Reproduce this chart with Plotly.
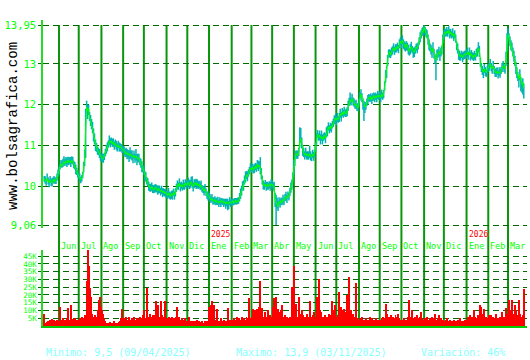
import pandas as pd
import plotly.graph_objects as go

START_DATE = "2024-05-13"

# Daily close (one row per month, May-2024 .. Mar-2026)
close = [
    10.18, 10.15, 10.12, 10.20, 10.14, 10.10, 10.16, 10.12, 10.08, 10.14, 10.18, 10.12, 10.16, 10.22, 10.30,
    10.38, 10.48, 10.55, 10.52, 10.58, 10.60, 10.56, 10.62, 10.58, 10.65, 10.60, 10.62, 10.58, 10.64, 10.60, 10.55, 10.50, 10.42, 10.38, 10.30,
    10.25, 10.22, 10.18, 10.20, 10.26, 10.45, 10.70, 11.40, 11.95, 11.85, 11.90, 11.70, 11.60, 11.55, 11.40, 11.30, 11.15, 11.05, 10.95, 10.90, 10.85, 10.80, 10.75,
    10.72, 10.68, 10.70, 10.75, 10.82, 10.90, 10.98, 11.05, 11.10, 11.08, 11.12, 11.05, 11.08, 11.02, 11.05, 11.00, 10.98, 11.02, 10.96, 10.98, 10.94, 10.92,
    10.90, 10.86, 10.84, 10.80, 10.82, 10.78, 10.80, 10.76, 10.78, 10.74, 10.72, 10.76, 10.70, 10.74, 10.72, 10.68, 10.70, 10.62, 10.58, 10.50, 10.45,
    10.38, 10.28, 10.20, 10.15, 10.08, 10.02, 9.98, 9.95, 10.00, 9.96, 9.92, 9.95, 9.98, 9.94, 9.90, 9.95, 9.92, 9.88, 9.90, 9.86, 9.88, 9.84, 9.86,
    9.82, 9.78, 9.85, 9.80, 9.76, 9.82, 9.78, 9.85, 9.80, 9.86, 9.95, 10.05, 10.02, 10.08, 10.00, 10.04, 9.98, 10.05, 10.02, 10.08, 10.04,
    10.06, 10.10, 10.02, 10.08, 10.12, 10.05, 10.00, 10.06, 10.10, 10.04, 10.08, 10.02, 10.06, 10.00, 10.03, 9.96, 9.92, 9.90, 9.94, 9.85, 9.80, 9.78,
    9.76, 9.72, 9.68, 9.70, 9.66, 9.64, 9.68, 9.62, 9.65, 9.63, 9.60, 9.64, 9.62, 9.66, 9.63, 9.60, 9.62, 9.58, 9.62, 9.60, 9.57, 9.62, 9.60,
    9.62, 9.65, 9.60, 9.64, 9.66, 9.62, 9.65, 9.64, 9.72, 9.80, 9.90, 9.98, 10.05, 10.15, 10.22, 10.28, 10.25, 10.32, 10.40, 10.45,
    10.42, 10.48, 10.40, 10.45, 10.50, 10.44, 10.55, 10.48, 10.52, 10.45, 10.30, 10.15, 10.05, 10.02, 10.06, 10.00, 10.04, 10.00, 10.05, 10.02, 10.06,
    10.05, 10.02, 10.00, 9.70, 9.60, 9.58, 9.50, 9.62, 9.60, 9.65, 9.62, 9.68, 9.66, 9.72, 9.75, 9.72, 9.78, 9.76, 9.85, 9.95, 10.05, 10.20,
    10.50, 10.65, 10.78, 10.80, 10.76, 10.85, 11.10, 11.18, 11.05, 10.90, 10.82, 10.78, 10.80, 10.76, 10.78, 10.74, 10.80, 10.76, 10.72, 10.78, 10.75, 10.82,
    10.95, 11.15, 11.28, 11.22, 11.25, 11.18, 11.22, 11.15, 11.20, 11.25, 11.18, 11.30, 11.38, 11.45, 11.40, 11.48, 11.42, 11.50, 11.58, 11.62, 11.66,
    11.62, 11.68, 11.64, 11.70, 11.78, 11.74, 11.82, 11.76, 11.85, 11.80, 11.78, 11.84, 11.95, 12.05, 12.12, 12.08, 12.15, 12.10, 12.05, 11.98, 12.02, 11.95, 11.92,
    12.05, 12.22, 12.26, 12.18, 12.08, 12.00, 11.95, 11.98, 12.05, 12.12, 12.18, 12.15, 12.20, 12.12, 12.18, 12.22, 12.16, 12.20, 12.18, 12.24, 12.20,
    12.22, 12.18, 12.25, 12.20, 12.28, 12.45, 12.70, 12.85, 13.10, 13.25, 13.28, 13.22, 13.30, 13.35, 13.38, 13.32, 13.40, 13.36, 13.42, 13.38, 13.48, 13.55,
    13.50, 13.58, 13.52, 13.45, 13.40, 13.48, 13.42, 13.35, 13.30, 13.38, 13.42, 13.36, 13.30, 13.28, 13.35, 13.40, 13.38, 13.45, 13.55, 13.65, 13.72, 13.80, 13.78,
    13.90, 13.82, 13.75, 13.70, 13.62, 13.45, 13.40, 13.35, 13.30, 13.38, 13.25, 13.15, 13.08, 13.20, 13.25, 13.30, 13.22, 13.28, 13.35, 13.60,
    13.72, 13.78, 13.74, 13.80, 13.76, 13.82, 13.72, 13.78, 13.70, 13.75, 13.68, 13.72, 13.60, 13.45, 13.35, 13.25, 13.20, 13.18, 13.22, 13.16, 13.20, 13.24, 13.22,
    13.25, 13.28, 13.22, 13.30, 13.18, 13.24, 13.20, 13.15, 13.22, 13.18, 13.25, 13.30, 13.38, 13.32, 13.05, 12.90, 12.85, 12.80, 12.88, 12.82, 12.78, 12.85,
    12.90, 12.95, 13.00, 12.92, 12.88, 12.95, 12.85, 12.80, 12.78, 12.82, 12.76, 12.80, 12.78, 12.85, 12.92, 12.95, 12.90, 12.88, 13.10, 13.50,
    13.72, 13.65, 13.55, 13.48, 13.40, 13.30, 13.20, 13.05, 12.95, 12.80, 12.70, 12.62, 12.75, 12.58, 12.50, 12.55, 12.40,
]

# How far each day's high reaches above the close (cents)
hi_ext = [
    8, 10, 6, 12, 9, 7, 10, 8, 12, 9, 8, 10, 7, 10, 12,
    10, 8, 10, 12, 10, 14, 12, 10, 12, 8, 12, 10, 14, 10, 12, 8, 10, 12, 8, 10,
    8, 10, 6, 8, 10, 15, 20, 50, 15, 15, 10, 12, 15, 10, 18, 12, 15, 10, 12, 8, 10, 12, 8,
    8, 12, 10, 8, 10, 12, 10, 8, 15, 10, 8, 12, 10, 8, 10, 12, 8, 10, 12, 8, 10, 8,
    10, 12, 8, 15, 10, 12, 8, 20, 10, 15, 8, 12, 10, 18, 8, 12, 10, 8, 10, 12, 8,
    12, 10, 15, 8, 12, 10, 8, 12, 10, 8, 12, 10, 8, 10, 12, 8, 10, 8, 12, 10, 8, 10, 8,
    8, 10, 12, 8, 10, 8, 12, 10, 8, 10, 12, 10, 8, 12, 10, 8, 10, 12, 8, 10, 8,
    10, 12, 15, 8, 12, 20, 10, 12, 8, 15, 10, 12, 8, 10, 12, 8, 10, 8, 12, 10, 8, 10,
    8, 10, 8, 12, 8, 10, 8, 10, 8, 12, 8, 10, 8, 6, 8, 10, 8, 12, 8, 10, 8, 12, 8,
    8, 6, 10, 8, 6, 10, 8, 10, 12, 15, 12, 15, 10, 12, 15, 10, 12, 10, 8, 12,
    10, 8, 12, 10, 8, 12, 10, 15, 10, 27, 15, 12, 10, 8, 10, 12, 8, 10, 8, 10, 12,
    10, 8, 12, 15, 20, 15, 15, 12, 10, 8, 10, 12, 8, 10, 12, 8, 10, 8, 12, 15, 12, 15,
    15, 12, 10, 8, 12, 10, 35, 25, 15, 10, 12, 8, 15, 10, 8, 12, 20, 10, 8, 12, 10, 8,
    12, 15, 10, 8, 12, 10, 15, 12, 10, 8, 12, 15, 10, 12, 10, 8, 12, 10, 8, 12, 10,
    10, 12, 8, 10, 12, 8, 10, 12, 10, 8, 12, 10, 15, 12, 18, 10, 12, 8, 10, 12, 10, 8, 12,
    10, 8, 12, 10, 8, 10, 12, 8, 10, 12, 8, 10, 8, 12, 10, 8, 12, 10, 8, 10, 8,
    10, 8, 12, 10, 8, 12, 15, 10, 12, 10, 8, 12, 10, 8, 12, 10, 8, 12, 10, 8, 12, 10,
    10, 12, 8, 10, 12, 8, 10, 12, 8, 10, 12, 8, 10, 12, 8, 10, 12, 8, 10, 12, 10, 8, 12,
    5, 8, 10, 12, 10, 15, 10, 12, 10, 15, 12, 10, 12, 15, 10, 12, 10, 12, 10, 12,
    10, 8, 12, 10, 8, 10, 12, 8, 10, 12, 8, 10, 12, 10, 15, 10, 12, 8, 10, 12, 10, 8, 10,
    10, 12, 8, 10, 12, 10, 8, 12, 10, 8, 12, 10, 15, 12, 10, 12, 10, 8, 12, 10, 8, 10,
    10, 8, 12, 10, 8, 12, 10, 8, 12, 10, 8, 12, 10, 8, 10, 12, 10, 8, 20, 25,
    15, 10, 12, 10, 12, 10, 12, 15, 10, 12, 10, 8, 12, 10, 8, 10, 12,
]

# How far each day's low reaches below the close (cents)
lo_ext = [
    6, 8, 10, 5, 9, 12, 6, 10, 8, 7, 9, 6, 10, 8, 6,
    10, 6, 8, 6, 10, 8, 6, 8, 10, 12, 8, 6, 10, 8, 6, 10, 8, 12, 10, 8,
    6, 8, 10, 8, 6, 10, 20, 70, 10, 20, 15, 10, 12, 15, 10, 20, 12, 18, 10, 12, 8, 10, 12,
    10, 8, 12, 10, 8, 10, 12, 10, 8, 12, 10, 8, 10, 12, 8, 10, 12, 8, 10, 12, 8, 10,
    8, 10, 12, 8, 15, 10, 20, 8, 12, 10, 15, 8, 12, 10, 20, 8, 12, 10, 12, 15, 10,
    10, 12, 8, 10, 8, 12, 10, 8, 10, 12, 8, 10, 12, 8, 10, 12, 8, 10, 8, 12, 10, 8, 12,
    10, 8, 12, 10, 8, 12, 10, 8, 12, 10, 8, 12, 10, 8, 12, 10, 8, 12, 10, 8, 10,
    8, 10, 8, 12, 10, 8, 12, 10, 8, 10, 12, 8, 10, 8, 12, 10, 8, 12, 10, 8, 10, 12,
    8, 10, 8, 6, 10, 8, 12, 8, 10, 8, 10, 8, 12, 10, 8, 10, 8, 12, 10, 18, 12, 8, 10,
    8, 10, 6, 8, 10, 6, 8, 6, 8, 10, 12, 8, 15, 10, 12, 10, 12, 8, 10, 8,
    8, 10, 8, 12, 10, 8, 12, 10, 8, 15, 12, 10, 12, 10, 8, 10, 12, 8, 10, 12, 8,
    8, 10, 12, 20, 54, 12, 10, 8, 12, 10, 8, 10, 12, 8, 10, 12, 8, 10, 8, 10, 12, 10,
    20, 15, 10, 12, 8, 10, 15, 10, 12, 15, 10, 12, 8, 10, 12, 8, 10, 12, 10, 8, 12, 10,
    10, 12, 8, 10, 12, 15, 10, 12, 8, 10, 12, 10, 15, 8, 10, 12, 10, 8, 12, 10, 8,
    12, 10, 8, 12, 10, 15, 10, 8, 12, 10, 8, 12, 10, 8, 12, 10, 8, 12, 10, 8, 12, 10, 8,
    10, 12, 8, 12, 20, 40, 15, 10, 8, 12, 10, 8, 12, 10, 8, 12, 10, 8, 12, 10, 8,
    8, 12, 10, 8, 12, 10, 15, 20, 15, 10, 12, 8, 10, 12, 8, 10, 12, 8, 10, 12, 10, 8,
    12, 10, 15, 12, 10, 15, 10, 12, 10, 15, 12, 10, 15, 12, 10, 8, 12, 10, 8, 12, 10, 12, 8,
    10, 12, 10, 8, 15, 12, 10, 12, 15, 10, 12, 15, 48, 12, 10, 12, 15, 10, 12, 10,
    12, 10, 8, 12, 10, 8, 10, 12, 8, 10, 12, 10, 8, 12, 10, 15, 12, 10, 8, 12, 10, 12, 8,
    12, 10, 12, 8, 10, 12, 10, 8, 12, 10, 8, 12, 10, 15, 12, 10, 12, 15, 10, 12, 10, 12,
    10, 12, 8, 10, 12, 8, 10, 12, 10, 8, 12, 10, 12, 10, 12, 8, 10, 12, 15, 20,
    12, 10, 12, 15, 10, 12, 15, 10, 20, 15, 12, 20, 15, 25, 20, 30, 25,
]

# Daily volume, thousands of shares
volume_k = [
    7.5, 2, 1.5, 2.5, 3, 2, 4, 3, 4.5, 3.5, 4, 3, 2.5, 4, 3,
    2, 12, 4, 3, 5, 2.5, 4, 3.5, 5, 11.5, 3, 4, 13.5, 3, 4.5, 2, 5, 3, 4, 3.5,
    4, 5, 3, 6, 4, 5, 7, 3, 29, 49, 38.5, 24.5, 19, 8, 6, 5, 7, 5.5, 4, 6, 10, 17, 19,
    12, 10, 8, 5, 3, 2, 1.5, 2, 1, 2.5, 1.5, 2, 1, 3, 2, 1.5, 2, 1, 2.5, 3, 5, 11,
    4, 5, 3, 6, 4, 3, 5.5, 4, 3, 5, 4, 6, 3.5, 4, 5, 3, 4.5, 6, 5, 4, 7,
    10, 5, 4, 24.5, 6, 5, 8, 3, 6, 7, 5, 7, 16, 4, 13.5, 6, 5, 16, 7, 4, 6, 16, 5,
    5, 4, 6, 3, 5, 4, 6, 3, 5, 4, 6, 12.5, 3, 6, 4, 3, 5, 4, 3, 5, 2,
    3, 2, 5.5, 3, 2, 3, 2.5, 3.5, 2, 3, 4, 2, 3, 2.5, 2, 3, 1.5, 2, 3, 2.5, 3, 2,
    12, 5, 13.5, 16, 5, 13.5, 4, 3, 11, 3, 2, 3, 5, 2, 3, 4, 2, 3, 2.5, 11.5, 3, 4, 3,
    4, 3, 5, 2, 4, 6, 3, 5, 4, 3, 6, 4, 5, 3, 4, 6, 5, 4, 18, 5,
    5, 6, 11, 8, 10, 7, 11, 6, 12.5, 29, 8, 11.5, 6, 5, 9, 4, 6, 10, 5, 7, 4,
    6, 12, 18, 16, 19, 10, 11, 9, 8, 10, 13.5, 6, 5, 7, 4, 6, 5, 3, 6, 5, 25, 8,
    38.5, 7, 14, 6, 5, 19, 8, 6, 10, 7, 5, 6, 4, 8, 5, 6, 16, 6, 4, 7, 9, 5,
    6, 19, 8, 30, 10, 7, 9, 5, 6, 4, 7, 5, 6, 4, 8, 6, 7, 16, 10, 6, 13.5,
    6, 5, 7, 22, 6, 12.5, 8, 10, 11, 9, 7, 20, 8, 31.5, 6, 10, 7, 8, 5, 6, 27.5, 5, 4,
    4, 5, 3, 6, 2, 4, 3, 5, 2, 4, 3, 6, 2, 5, 3, 4, 2, 5, 3, 4, 3,
    4, 3, 5, 6, 4, 5, 14.5, 8, 5, 6, 4, 7, 5, 6, 4, 5, 7, 4, 6, 8, 5, 4,
    3, 4, 2, 5, 3, 4, 2, 6, 17, 5, 6, 10.5, 5, 4, 6, 5, 7, 4, 5, 6, 9, 5, 4,
    4, 5, 3, 6, 4, 3, 5, 4, 6, 3, 5, 8, 4, 3, 5, 7, 4, 5, 3, 4,
    3, 2, 4, 5, 3, 2, 4, 3, 2, 3, 4, 2, 3, 2, 4, 3, 5, 2, 3, 2, 3, 4, 2,
    4, 6, 5, 7, 5, 4, 6, 5, 10.5, 6, 4, 5, 7, 6, 13.5, 12.5, 8, 6, 11, 5, 6, 4,
    5, 7, 4, 7, 5, 6, 4, 5, 8, 5, 4, 5, 6, 4, 9, 5, 6, 4, 11.5, 6,
    8, 17, 10, 6, 17, 8, 6, 13.5, 10, 7, 5, 17, 8, 6, 5, 7, 24,
]

price_ticks = [9.06, 10, 11, 12, 13, 13.95]
price_tick_text = ["9,06", "10", "11", "12", "13", "13,95"]
vol_ticks = [5, 10, 15, 20, 25, 30, 35, 40, 45]
vol_tick_text = ["5K", "10K", "15K", "20K", "25K", "30K", "35K", "40K", "45K"]
month_names = ["Ene", "Feb", "Mar", "Abr", "May", "Jun", "Jul", "Ago", "Sep", "Oct", "Nov", "Dic"]
watermark = "www.bolsagrafica.com"
stats_min = "Minimo: 9,5 (09/04/2025)"
stats_max = "Maximo: 13,9 (03/11/2025)"
stats_var = "Variación: 46%"

assert len(close) == len(hi_ext) == len(lo_ext) == len(volume_k), (len(close), len(hi_ext), len(lo_ext), len(volume_k))

N = len(close)
dates = pd.bdate_range(START_DATE, periods=N)
idx = list(range(N))
high = [c + h / 100 for c, h in zip(close, hi_ext)]
low = [c - l / 100 for c, l in zip(close, lo_ext)]

# month starts
month_starts = [i for i in range(1, N) if dates[i].month != dates[i - 1].month]

# geometry (pixels)
W, H = 530, 360
ML, MR, MT, MB = 43, 3, 20, 34
PH = H - MT - MB


def py(px):
    return 1 - (px - MT) / PH


def pxx(px):
    return (px - ML) / (W - ML - MR)


MONO = "DejaVu Sans Mono"
GREEN = "#00ff00"
GRID = "#006a00"
VLINE = "#0a960a"

# hi-low bars
bx, by = [], []
for i in idx:
    bx += [i, i, None]
    by += [low[i], high[i], None]

fig = go.Figure()
fig.add_trace(go.Scatter(x=bx, y=by, mode="lines", line=dict(color="#00b4b4", width=1.5),
                         hoverinfo="skip", showlegend=False, xaxis="x", yaxis="y"))
fig.add_trace(go.Scatter(x=idx, y=close, mode="lines", line=dict(color="#00ff00", width=1.1),
                         showlegend=False, xaxis="x", yaxis="y"))
fig.add_trace(go.Bar(x=idx, y=volume_k, marker=dict(color="#ff0000", line=dict(width=0)),
                     showlegend=False, xaxis="x", yaxis="y2"))

shapes = []
for m in month_starts:
    shapes.append(dict(type="line", xref="x", yref="paper", x0=m, x1=m, y0=0, y1=py(25),
                       line=dict(color=VLINE, width=2), layer="below"))

annotations = []
for m in month_starts:
    annotations.append(dict(x=m, xref="x", y=py(245.5), yref="paper", text=month_names[dates[m].month - 1],
                            showarrow=False, xanchor="left", yanchor="middle", xshift=0,
                            font=dict(family=MONO, size=8.5, color=GREEN)))
    if dates[m].month == 1:
        annotations.append(dict(x=m, xref="x", y=py(234.5), yref="paper", text=str(dates[m].year),
                                showarrow=False, xanchor="left", yanchor="middle", xshift=0,
                                font=dict(family=MONO, size=8, color="#ff0000")))

annotations.append(dict(x=pxx(13), xref="paper", y=py(126), yref="paper", text=watermark, textangle=-90,
                        showarrow=False, xanchor="center", yanchor="middle",
                        font=dict(family="Liberation Mono", size=14, color="#000000")))
for txt, x0 in [(stats_min, 44), (stats_max, 234), (stats_var, 419)]:
    annotations.append(dict(x=pxx(x0), xref="paper", y=py(352), yref="paper", text=txt,
                            showarrow=False, xanchor="left", yanchor="middle",
                            font=dict(family=MONO, size=10, color="#88ffff")))

scale = 449 / 455
x_lo = month_starts[0] - (59 - ML) / scale
x_hi = month_starts[0] + (W - MR - 59) / scale

fig.update_layout(
    width=W, height=H,
    margin=dict(l=ML, r=MR, t=MT, b=MB, pad=0),
    paper_bgcolor="white", plot_bgcolor="white",
    bargap=0,
    shapes=shapes, annotations=annotations,
    xaxis=dict(range=[x_lo, x_hi], anchor="y2", showgrid=False, zeroline=False,
               showticklabels=False, ticks="", showline=True, linecolor="#00cc00", linewidth=2),
    yaxis=dict(domain=[py(228), 1], range=[9.06 - 3 / 40.9, 13.95 + 5 / 40.9],
               tickvals=price_ticks, ticktext=price_tick_text,
               tickfont=dict(family=MONO, size=10.5, color=GREEN),
               showgrid=True, gridcolor=GRID, gridwidth=1, griddash="6px,4px",
               zeroline=False, showline=True, linecolor="#22dd22", linewidth=1.5,
               ticks="outside", ticklen=3, tickcolor=GRID),
    yaxis2=dict(domain=[0, py(250)], range=[0, 49],
                tickvals=vol_ticks, ticktext=vol_tick_text,
                tickfont=dict(family=MONO, size=7.5, color=GREEN),
                showgrid=True, gridcolor=GRID, gridwidth=1, griddash="6px,4px",
                zeroline=False, showline=True, linecolor="#22dd22", linewidth=1.5,
                ticks="outside", ticklen=3, tickcolor=GRID),
)

fig.write_html("out.html")
